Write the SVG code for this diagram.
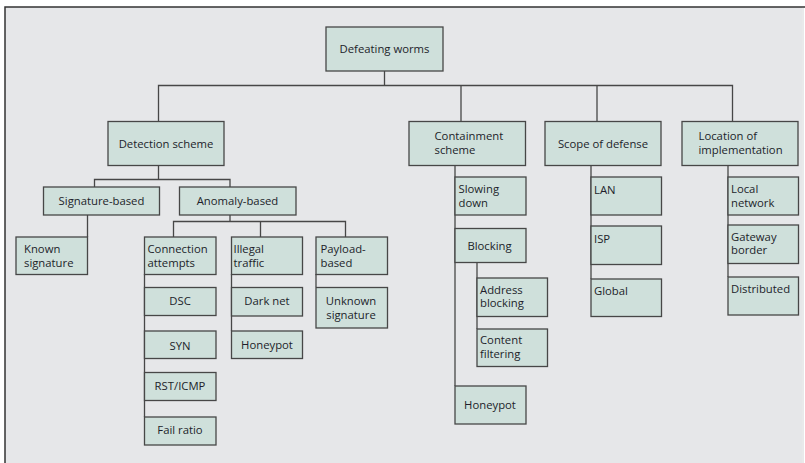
<svg xmlns="http://www.w3.org/2000/svg" width="805" height="463" viewBox="0 0 805 463">
  <style>
    .box { fill: #cfe0db; stroke: #474747; stroke-width: 1.3; }
    .wire { fill: none; stroke: #474747; stroke-width: 1.3; }
    text { font-family: "Open Sans", "Liberation Sans", sans-serif; font-size: 11.3px; fill: #211e2a; }
    .c { text-anchor: middle; }
  </style>
  <!-- page panel -->
  <rect x="0" y="0" width="805" height="463" fill="#ffffff"/>
  <rect x="5" y="7" width="797" height="460" fill="#e6e7e9"/>
  <path d="M5 470 V7 H805" fill="none" stroke="#333" stroke-width="1.5"/>
  <line x1="803" y1="8" x2="803" y2="463" stroke="#d2d3d5" stroke-width="1"/>

  <!-- connectors -->
  <g id="connectors" class="wire">
    <path d="M384.5 71 V85.5 M158.5 121 V85.5 H732.5 V121 M461 85.5 V121 M597 85.5 V121"/>
    <path d="M158.5 165.5 V179.5 M94.5 187 V179.5 H230 V187"/>
    <path d="M87.5 215 V237"/>
    <path d="M230 215 V221.5 M173.5 237 V221.5 H345.5 V237 M260.5 221.5 V237"/>
    <path d="M144.5 274 V417"/>
    <path d="M231.5 274 V331"/>
    <path d="M316 274 V287"/>
    <path d="M455 165.5 V386"/>
    <path d="M477 262.5 V329"/>
    <path d="M591 165.5 V279"/>
    <path d="M728 165.5 V277"/>
  </g>

  <g id="root"><rect class="box" x="326" y="27" width="117" height="44"/><text class="c" x="384.5" y="52.5">Defeating worms</text></g>

  <g id="detection"><rect class="box" x="108" y="121.5" width="116" height="44"/><text class="c" x="166" y="147.5">Detection scheme</text></g>
  <g id="containment"><rect class="box" x="409" y="121.5" width="116.5" height="44"/><text x="434.5" y="140">Containment</text><text x="434.5" y="153.5">scheme</text></g>
  <g id="scope"><rect class="box" x="545" y="121.5" width="116" height="44"/><text class="c" x="603" y="147.5">Scope of defense</text></g>
  <g id="location"><rect class="box" x="682" y="121.5" width="116" height="44"/><text x="698.5" y="140">Location of</text><text x="698.5" y="153.5">implementation</text></g>

  <g id="signature"><rect class="box" x="43.5" y="187" width="116" height="28"/><text class="c" x="101.5" y="205">Signature-based</text></g>
  <g id="anomaly"><rect class="box" x="179.5" y="187" width="116.5" height="28"/><text class="c" x="237.5" y="205">Anomaly-based</text></g>

  <g id="known"><rect class="box" x="16" y="237" width="71.5" height="37.5"/><text x="24" y="252.5">Known</text><text x="24" y="266.5">signature</text></g>

  <g id="connection"><rect class="box" x="144.5" y="237" width="71.5" height="37.5"/><text x="147.5" y="252.5">Connection</text><text x="147.5" y="266.5">attempts</text></g>
  <g id="illegal"><rect class="box" x="231.5" y="237" width="71" height="37.5"/><text x="233.5" y="252.5">Illegal</text><text x="233.5" y="266.5">traffic</text></g>
  <g id="payload"><rect class="box" x="316" y="237" width="71.5" height="37.5"/><text x="320.5" y="252.5">Payload-</text><text x="320.5" y="266.5">based</text></g>

  <g id="dsc"><rect class="box" x="144.5" y="287.5" width="71.5" height="28"/><text class="c" x="180" y="305">DSC</text></g>
  <g id="syn"><rect class="box" x="144.5" y="331" width="71.5" height="27.5"/><text class="c" x="180" y="350">SYN</text></g>
  <g id="rst"><rect class="box" x="144.5" y="372.5" width="71.5" height="28"/><text class="c" x="180" y="390">RST/ICMP</text></g>
  <g id="failratio"><rect class="box" x="144.5" y="417" width="71.5" height="28"/><text class="c" x="180" y="434">Fail ratio</text></g>

  <g id="darknet"><rect class="box" x="231.5" y="287.5" width="71" height="28.5"/><text class="c" x="267" y="305">Dark net</text></g>
  <g id="honeypot-detect"><rect class="box" x="231.5" y="331" width="71" height="27.5"/><text class="c" x="267" y="349">Honeypot</text></g>

  <g id="unknown"><rect class="box" x="316" y="287.5" width="71.5" height="40.5"/><text class="c" x="351" y="304.5">Unknown</text><text class="c" x="351" y="318.5">signature</text></g>

  <g id="slowing"><rect class="box" x="455" y="177" width="71" height="38"/><text x="458.5" y="193">Slowing</text><text x="458.5" y="206.5">down</text></g>
  <g id="blocking"><rect class="box" x="455" y="228.5" width="71" height="34"/><text class="c" x="489.5" y="249.5">Blocking</text></g>
  <g id="address"><rect class="box" x="477" y="278" width="70.5" height="38.5"/><text x="480" y="293.5">Address</text><text x="480" y="307">blocking</text></g>
  <g id="content"><rect class="box" x="477" y="329" width="70.5" height="37.5"/><text x="480" y="343.5">Content</text><text x="480" y="357.5">filtering</text></g>
  <g id="honeypot-contain"><rect class="box" x="455" y="386" width="71" height="38"/><text class="c" x="490" y="409">Honeypot</text></g>

  <g id="lan"><rect class="box" x="591" y="177" width="70.5" height="38"/><text x="594" y="194">LAN</text></g>
  <g id="isp"><rect class="box" x="591" y="226" width="70.5" height="38.5"/><text x="594" y="242.5">ISP</text></g>
  <g id="global"><rect class="box" x="591" y="279" width="70.5" height="37.5"/><text x="594" y="295">Global</text></g>

  <g id="local"><rect class="box" x="728" y="177" width="70.5" height="38"/><text x="731" y="193">Local</text><text x="731" y="206.5">network</text></g>
  <g id="gateway"><rect class="box" x="728" y="225" width="70.5" height="38.5"/><text x="731" y="240.5">Gateway</text><text x="731" y="254">border</text></g>
  <g id="distributed"><rect class="box" x="728" y="277" width="70.5" height="38"/><text x="731" y="292.5">Distributed</text></g>
</svg>
